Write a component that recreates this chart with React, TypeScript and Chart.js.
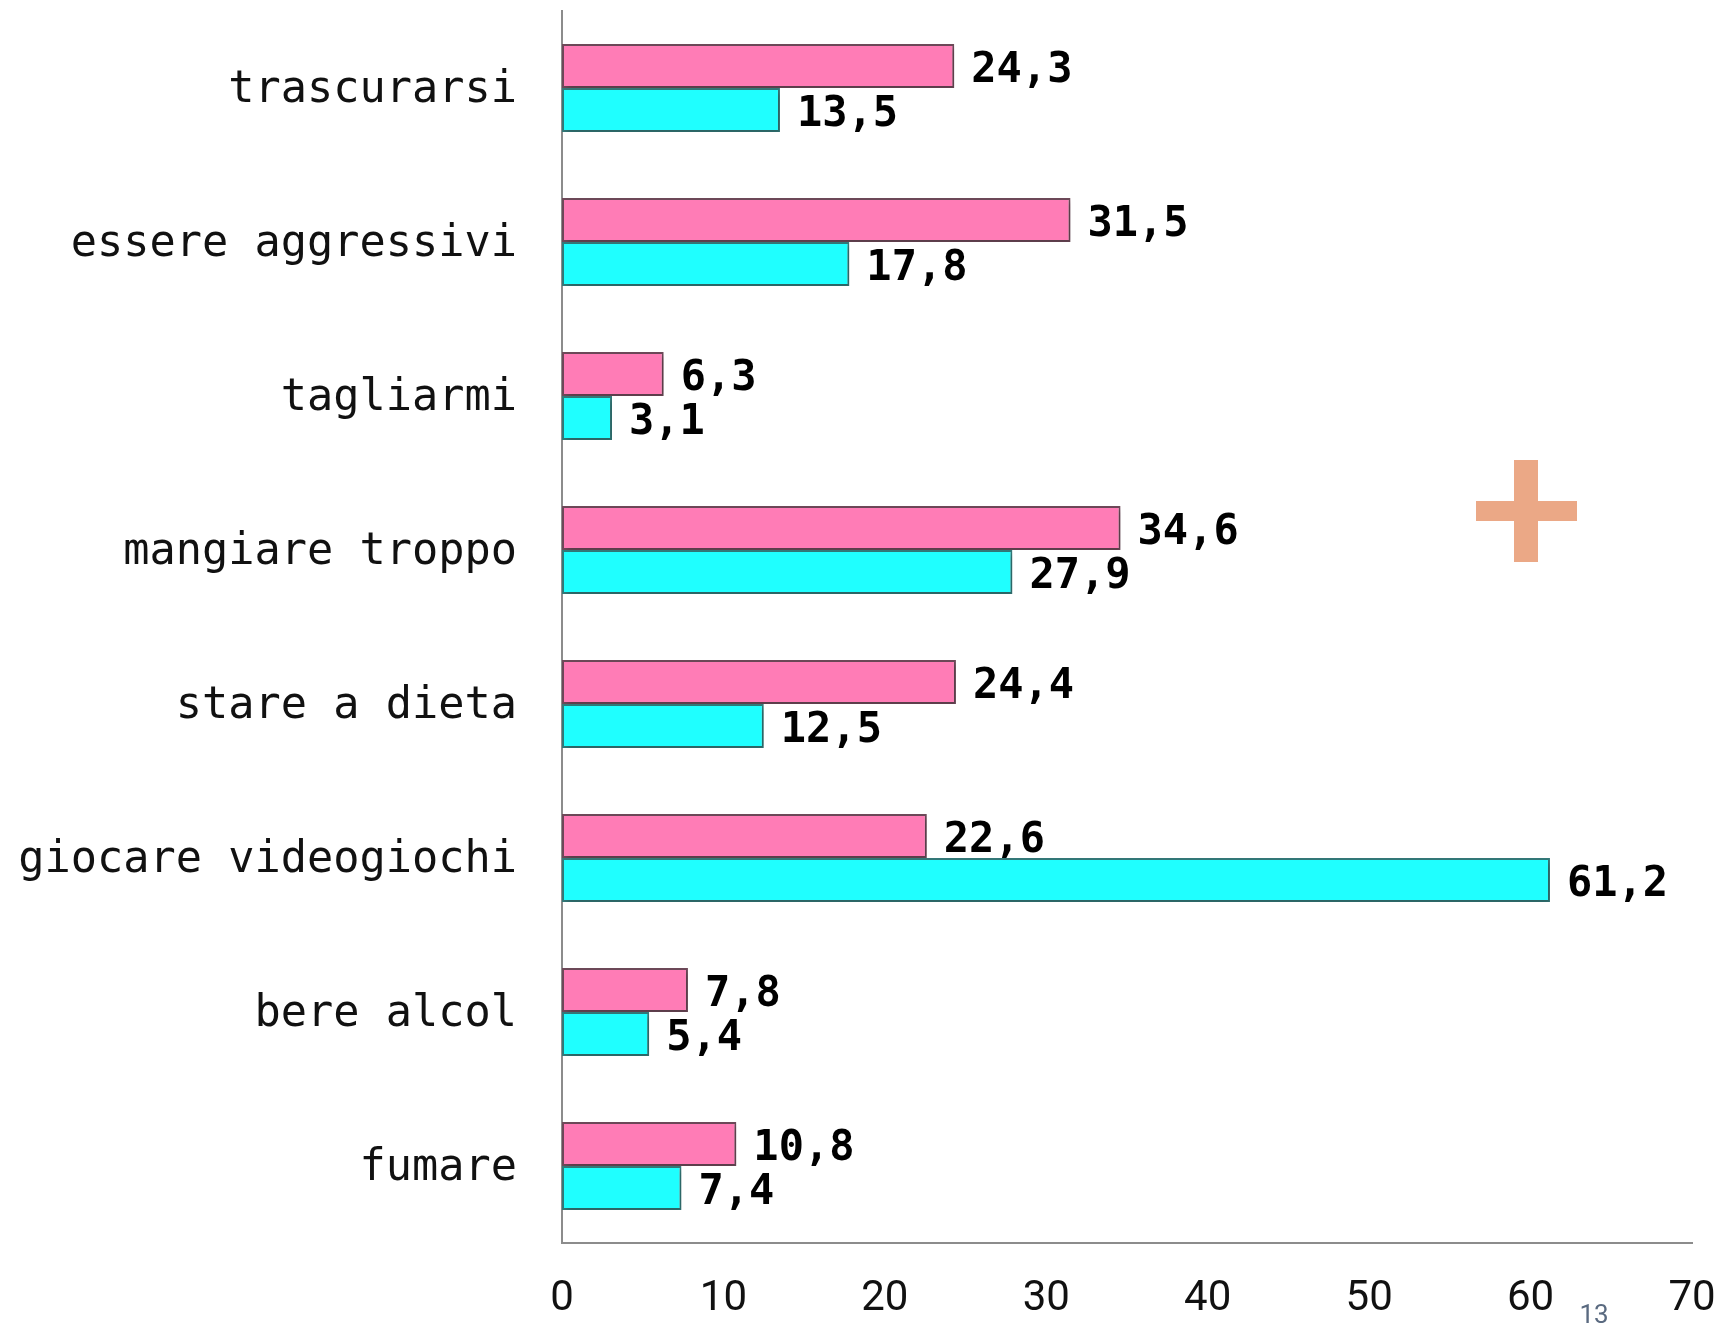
import React, { useEffect, useRef } from "react";
import { Chart, registerables } from "chart.js";

Chart.register(...registerables);

const categories = [
  "trascurarsi",
  "essere aggressivi",
  "tagliarmi",
  "mangiare troppo",
  "stare a dieta",
  "giocare videogiochi",
  "bere alcol",
  "fumare",
];
const pinkValues = [24.3, 31.5, 6.3, 34.6, 24.4, 22.6, 7.8, 10.8];
const cyanValues = [13.5, 17.8, 3.1, 27.9, 12.5, 61.2, 5.4, 7.4];
const xMin = 0;
const xMax = 70;
const xStep = 10;
const pageNumber = "13";

const W = 1722;
const H = 1329;

const fmt = (v: number) => v.toFixed(1).replace(".", ",");

const zeroPad = (scale: any) => {
  scale.paddingTop = 0;
  scale.paddingBottom = 0;
  scale.paddingLeft = 0;
  scale.paddingRight = 0;
};

const decorPlugin = {
  id: "decor",
  beforeDatasetsDraw(chart: any) {
    const ctx = chart.ctx;
    ctx.save();
    ctx.shadowColor = "rgba(0,0,0,0.22)";
    ctx.shadowBlur = 6;
    ctx.shadowOffsetX = 3;
    ctx.shadowOffsetY = 3;
  },
  afterDatasetsDraw(chart: any) {
    const ctx = chart.ctx;
    ctx.restore();
    ctx.save();
    ctx.font = 'bold 42px "DejaVu Sans Mono"';
    ctx.fillStyle = "#000";
    ctx.textAlign = "left";
    ctx.textBaseline = "middle";
    chart.data.datasets.forEach((ds: any, di: number) => {
      const meta = chart.getDatasetMeta(di);
      meta.data.forEach((bar: any, i: number) => {
        ctx.fillText(fmt(ds.data[i]), bar.x + 17, bar.y + 5);
      });
    });
    ctx.restore();
  },
  afterDraw(chart: any) {
    const ctx = chart.ctx;
    ctx.save();
    // decorative plus sign
    ctx.fillStyle = "#EBA886";
    ctx.fillRect(1514, 460, 24, 102);
    ctx.fillRect(1476, 501, 101, 20);
    // page number
    ctx.font = '26px "Roboto"';
    ctx.fillStyle = "#5a6a80";
    ctx.textAlign = "center";
    ctx.textBaseline = "middle";
    ctx.fillText(pageNumber, 1594, 1316);
    ctx.restore();
  },
};

export default function App() {
  const canvasRef = useRef<HTMLCanvasElement | null>(null);

  useEffect(() => {
    if (!canvasRef.current) return;
    const chart = new Chart(canvasRef.current, {
      type: "bar",
      data: {
        labels: categories,
        datasets: [
          {
            data: pinkValues,
            backgroundColor: "#FF7CB6",
            borderColor: "#6f4a5a",
            borderWidth: 2,
            borderSkipped: false,
            categoryPercentage: 0.5714,
            barPercentage: 1,
          },
          {
            data: cyanValues,
            backgroundColor: "#1FFFFF",
            borderColor: "#347a7a",
            borderWidth: 2,
            borderSkipped: false,
            categoryPercentage: 0.5714,
            barPercentage: 1,
          },
        ],
      },
      options: {
        indexAxis: "y",
        animation: false,
        responsive: false,
        maintainAspectRatio: false,
        layout: { padding: { top: 11, right: 30, left: 0, bottom: 0 } },
        plugins: {
          legend: { display: false },
          tooltip: { enabled: false },
          title: { display: false },
        },
        scales: {
          x: {
            type: "linear",
            min: xMin,
            max: xMax,
            ticks: {
              stepSize: xStep,
              color: "#111",
              font: { family: "Roboto", size: 42 },
              padding: 31,
            },
            grid: { display: false, drawTicks: false },
            border: { display: true, color: "#8c8c8c", width: 2 },
            afterFit: (scale: any) => {
              scale.height = 86;
              zeroPad(scale);
            },
          },
          y: {
            type: "category",
            ticks: {
              color: "#111",
              font: { family: '"DejaVu Sans Mono"', size: 43.6 },
              padding: 45,
              labelOffset: 3,
            },
            grid: { display: false, drawTicks: false },
            border: { display: true, color: "#8c8c8c", width: 2 },
            afterFit: (scale: any) => {
              scale.width = 562;
              zeroPad(scale);
            },
          },
        },
      },
      plugins: [decorPlugin],
    });
    return () => chart.destroy();
  }, []);

  return (
    <div style={{ position: "absolute", left: 0, top: 0, width: W, height: H, background: "#fff" }}>
      <canvas ref={canvasRef} width={W} height={H} style={{ width: W, height: H, display: "block" }} />
    </div>
  );
}
